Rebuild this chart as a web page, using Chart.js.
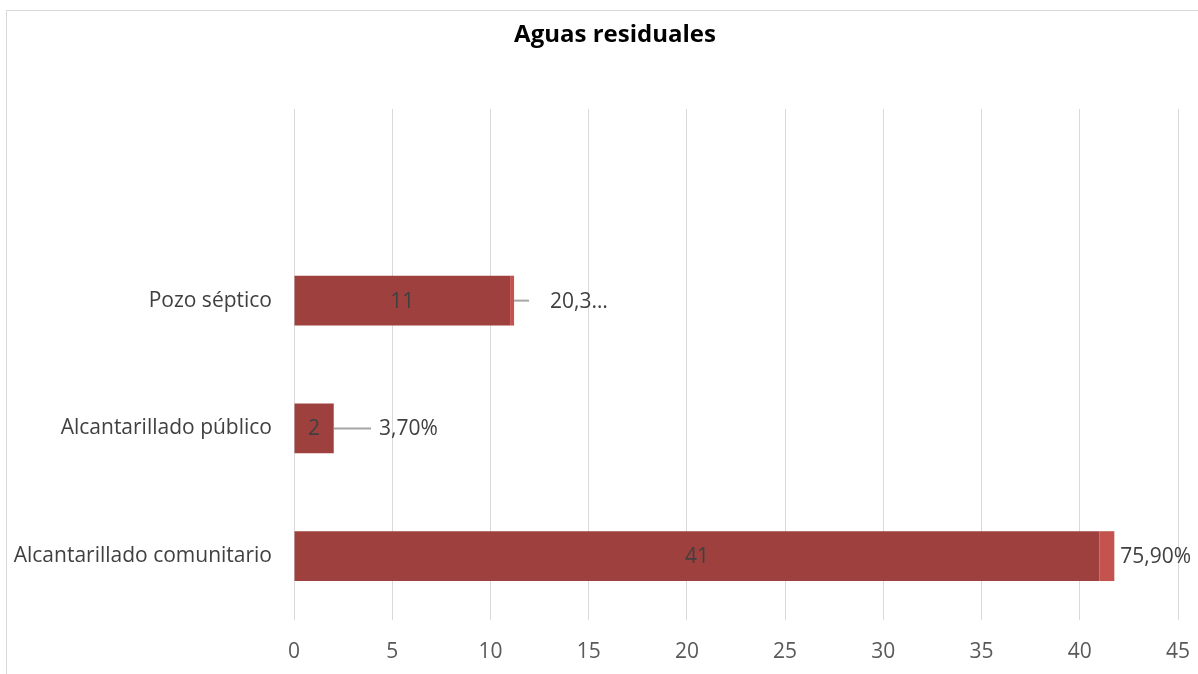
<!DOCTYPE html>
<html>
<head>
<meta charset="utf-8">
<script src="https://cdn.jsdelivr.net/npm/chart.js@4.4.1/dist/chart.umd.min.js"></script>
<style>
  html, body { margin: 0; padding: 0; background: #fff; }
  #wrap { position: relative; width: 1198px; height: 674px; overflow: hidden; }
  #frame { position: absolute; left: 6px; top: 10px; width: 1300px; height: 800px; border-left: 1px solid #d9d9d9; border-top: 1px solid #d9d9d9; box-sizing: border-box; }
  canvas { position: absolute; left: 0; top: 0; }
</style>
</head>
<body>
<div id="wrap">
  <div id="frame"></div>
  <canvas id="c" width="1198" height="674"></canvas>
</div>
<script>
const titleText = "Aguas residuales";
const categories = ["", "Pozo séptico", "Alcantarillado público", "Alcantarillado comunitario"];
const counts = [null, 11, 2, 41];
const shares = [null, 0.203, 0.037, 0.759];
const shareLabels = ["", "20,3…", "3,70%", "75,90%"];
const xTicks = [0, 5, 10, 15, 20, 25, 30, 35, 40, 45];

// label placement (style only)
const leader = [0, 15, 37, 0];
const gapAfter = [0, 21, 8, 6];

const FONT = "'Open Sans', 'Noto Sans', sans-serif";

const labelPlugin = {
  id: 'labels',
  afterDatasetsDraw(chart) {
    const ctx = chart.ctx;
    const m0 = chart.getDatasetMeta(0);
    const m1 = chart.getDatasetMeta(1);
    ctx.save();
    ctx.font = "21px " + FONT;
    ctx.fillStyle = "#404040";
    ctx.textBaseline = "middle";
    for (let i = 0; i < categories.length; i++) {
      if (counts[i] == null) continue;
      const b = m0.data[i];
      const cx = (b.x + b.base) / 2;
      ctx.textAlign = "center";
      ctx.fillText(String(counts[i]), cx, b.y + 1);
      const e = m1.data[i];
      let x = e.x;
      if (leader[i] > 0) {
        ctx.strokeStyle = "#a6a6a6";
        ctx.lineWidth = 2;
        ctx.beginPath();
        ctx.moveTo(x, e.y);
        ctx.lineTo(x + leader[i], e.y);
        ctx.stroke();
        x += leader[i];
      }
      ctx.textAlign = "left";
      ctx.fillText(shareLabels[i], x + gapAfter[i], e.y + 1);
    }
    ctx.restore();
  }
};

const titlePlugin = {
  id: 'ttl',
  afterDraw(chart) {
    const ctx = chart.ctx;
    ctx.save();
    ctx.font = "bold 24px " + FONT;
    ctx.fillStyle = "#000";
    ctx.textAlign = "center";
    ctx.textBaseline = "alphabetic";
    ctx.fillText(titleText, 615, 42);
    ctx.restore();
  }
};

new Chart(document.getElementById('c'), {
  type: 'bar',
  data: {
    labels: categories,
    datasets: [
      { label: 'Cantidad', data: counts, backgroundColor: '#9E413E', stack: 's', barPercentage: 0.39, categoryPercentage: 1 },
      { label: 'Porcentaje', data: shares, backgroundColor: '#C4524E', stack: 's', barPercentage: 0.39, categoryPercentage: 1 }
    ]
  },
  options: {
    indexAxis: 'y',
    responsive: false,
    animation: false,
    devicePixelRatio: 1,
    layout: { padding: { left: 0, right: 20, top: 109, bottom: 0 } },
    plugins: { legend: { display: false }, tooltip: { enabled: false }, title: { display: false } },
    scales: {
      x: {
        type: 'linear', min: 0, max: 45, stacked: true,
        afterBuildTicks(s) { s.ticks = xTicks.map(v => ({ value: v })); },
        afterFit(s) { s.height = 54; s.paddingRight = 0; s.paddingLeft = 0; },
        grid: { color: '#d9d9d9', lineWidth: 1, drawTicks: false },
        border: { display: false },
        ticks: { color: '#595959', font: { family: FONT, size: 21 }, padding: 19 }
      },
      y: {
        type: 'category', stacked: true,
        afterFit(s) { s.width = 294; },
        grid: { display: false, drawTicks: false },
        border: { display: false },
        ticks: { color: '#404040', font: { family: FONT, size: 21 }, padding: 22 }
      }
    }
  },
  plugins: [labelPlugin, titlePlugin]
});
</script>
</body>
</html>
